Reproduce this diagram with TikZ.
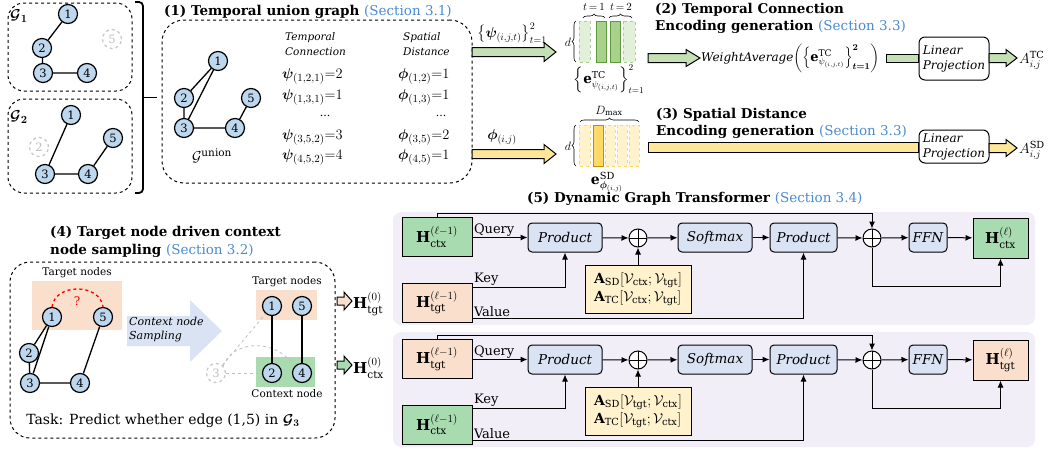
\documentclass[tikz,border=0pt]{standalone}
\usepackage{amsmath,bm}
\usepackage{fontspec}
\setmainfont{DejaVu Serif}
\usetikzlibrary{arrows.meta,calc,decorations.pathreplacing}
\definecolor{gnode}{HTML}{BDD7EE}
\definecolor{secblue}{HTML}{4A8BD0}
\definecolor{arrgreen}{HTML}{C5E0B4}
\definecolor{bargreen}{HTML}{A9D18E}
\definecolor{bargreenD}{HTML}{5E9A3A}
\definecolor{lightgreen}{HTML}{E2F0D9}
\definecolor{arryellow}{HTML}{FFE699}
\definecolor{baryellow}{HTML}{FFD966}
\definecolor{baryellowD}{HTML}{C09000}
\definecolor{lightyellow}{HTML}{FFF2CC}
\definecolor{ctxgreen}{HTML}{A8DCB0}
\definecolor{tgtpeach}{HTML}{FADFCC}
\definecolor{opblue}{HTML}{DAE3F3}
\definecolor{panelc}{HTML}{F2EEF8}
\definecolor{aboxc}{HTML}{FFF2CC}
\newcommand{\myfs}[1]{\fontsize{#1}{#1}\selectfont}
% block arrow: from, to, fill, body half height, head half height, head length
\newcommand{\barrow}[6]{\draw[line width=1pt, fill=#3, line join=miter] ($(#1)+(0,#4)$) -- ($(#2)+(-#6,#4)$) -- ($(#2)+(-#6,#5)$) -- (#2) -- ($(#2)+(-#6,-#5)$) -- ($(#2)+(-#6,-#4)$) -- ($(#1)+(0,-#4)$) -- cycle;}
\newcommand{\bbody}[4]{\draw[line width=1pt, fill=#3] ($(#1)+(0,#4)$) rectangle ($(#2)+(0,-#4)$);}
\begin{document}
\begin{tikzpicture}[x=1pt,y=-1pt,
 gn/.style={circle, draw, line width=1.2pt, fill=gnode, minimum size=19pt, inner sep=0pt, font=\myfs{11.5}},
 gf/.style={circle, draw=black!22, dashed, line width=1.2pt, text=black!25, fill=white, minimum size=19pt, inner sep=0pt, font=\myfs{11.5}},
 ge/.style={line width=1.3pt},
 dbox/.style={draw, dashed, line width=1pt, rounded corners=16pt, inner sep=0pt},
 ttl/.style={font=\fontsize{13.5}{17}\selectfont\bfseries, anchor=west, align=left, inner sep=0pt},
 opbox/.style={draw, line width=1pt, rounded corners=4pt, fill=opblue, font=\myfs{13.5}\itshape, minimum height=29pt, inner sep=0pt},
 hbox/.style={draw, line width=1pt, minimum width=70pt, minimum height=39pt, inner sep=0pt, font=\myfs{15}},
 lpbox/.style={draw, line width=1pt, rounded corners=6pt, fill=white, font=\fontsize{12}{15}\selectfont\itshape, align=left, minimum width=70pt, inner sep=0pt},
 abox/.style={draw, line width=1pt, fill=aboxc, font=\fontsize{14}{18}\selectfont, align=left, minimum width=106pt, minimum height=48pt, inner sep=0pt},
 oplus/.style={circle, draw, line width=1pt, minimum size=18pt, inner sep=0pt, fill=white, path picture={\draw[line width=1pt] (path picture bounding box.north)--(path picture bounding box.south) (path picture bounding box.west)--(path picture bounding box.east);}},
 ar/.style={-{Latex[length=7pt,width=6pt]}, line width=1pt},
 lbl/.style={font=\myfs{13}, inner sep=1pt},
 brc/.style={decorate, decoration={brace, amplitude=4pt}, line width=0.6pt},
 lightbar/.style={dashed, line width=0.4pt},
 fadeline/.style={dashed, draw=black!25, line width=0.8pt},
 mth/.style={anchor=west, font=\myfs{15}, inner sep=0pt},
]
\useasboundingbox (0,0) rectangle (1050,448);

% ---------------- G1 / G2 ----------------
\node[dbox, minimum width=124pt, minimum height=88pt] (g1box) at (70,47) {};
\node[dbox, minimum width=124pt, minimum height=94pt] (g2box) at (70,146) {};
\node[anchor=west, font=\myfs{15}, inner sep=0pt] (g1lab) at (10,16) {$\bm{\mathcal{G}_1}$};
\node[anchor=west, font=\myfs{15}, inner sep=0pt] (g2lab) at (10,117) {$\bm{\mathcal{G}_2}$};
\node[gn] (a1) at (68,14) {1};
\node[gn] (a2) at (42,48) {2};
\node[gn] (a3) at (43,73) {3};
\node[gn] (a4) at (87,73) {4};
\node[gf] (a5) at (112,39) {5};
\draw[ge] (a1)--(a2) (a2)--(a3) (a3)--(a4);
\node[gn] (b1) at (71,115) {1};
\node[gf] (b2) at (39,147) {2};
\node[gn] (b5) at (113,138) {5};
\node[gn] (b3) at (45,174) {3};
\node[gn] (b4) at (88,174) {4};
\draw[ge] (b1)--(b3) (b3)--(b4) (b4)--(b5);
\coordinate (brtop) at (135,2);
\coordinate (brbot) at (135,193);
\coordinate (brmid) at (143,97.5);
\coordinate (brend) at (157,97.5);
\draw[line width=1.8pt, rounded corners=4pt] (brtop) -- (143,2) -- (143,193) -- (brbot);
\draw[line width=1.8pt] (brmid) -- (brend);

% ---------------- (1) union graph ----------------
\node[ttl] (t1) at (164,12) {(1) Temporal union graph {\mdseries\color{secblue}(Section 3.1)}};
\node[dbox, rounded corners=22pt, minimum width=310pt, minimum height=163pt] (ubox) at (317,101.5) {};
\node[gn] (u1) at (218,61) {1};
\node[gn] (u2) at (184,98) {2};
\node[gn] (u5) at (251,98) {5};
\node[gn] (u3) at (184,128) {3};
\node[gn] (u4) at (235,128) {4};
\draw[ge] (u1)--(u2) (u1)--(u3) (u2)--(u3) (u3)--(u4) (u4)--(u5);
\node[font=\myfs{15}] (gu) at (212,156) {$\mathcal{G}^{\mathrm{union}}$};
\node[font=\fontsize{10.5}{15}\selectfont\itshape, align=left, anchor=west, inner sep=0pt] (tch) at (285,44) {Temporal\\Connection};
\node[font=\fontsize{10.5}{15}\selectfont\itshape, align=left, anchor=west, inner sep=0pt] (sdh) at (403,44) {Spatial\\Distance};
\node[mth] (p1) at (282,76) {$\bm{\psi}_{(1,2,1)}{=}2$};
\node[mth] (p2) at (282,97) {$\bm{\psi}_{(1,3,1)}{=}1$};
\node[font=\myfs{11}, inner sep=0pt] (p3) at (325,116) {...};
\node[mth] (p4) at (282,137) {$\bm{\psi}_{(3,5,2)}{=}3$};
\node[mth] (p5) at (282,157) {$\bm{\psi}_{(4,5,2)}{=}4$};
\node[mth] (f1) at (398,76) {$\bm{\phi}_{(1,2)}{=}1$};
\node[mth] (f2) at (398,97) {$\bm{\phi}_{(1,3)}{=}1$};
\node[font=\myfs{11}, inner sep=0pt] (f3) at (441,116) {...};
\node[mth] (f4) at (398,137) {$\bm{\phi}_{(3,5)}{=}2$};
\node[mth] (f5) at (398,157) {$\bm{\phi}_{(4,5)}{=}1$};

% arrows out of union box
\coordinate (gA) at (472,52);
\coordinate (gB) at (556,52);
\barrow{gA}{gB}{arrgreen}{4.5}{9.5}{12}
\node[font=\myfs{14}] (psil) at (512,33) {$\left\{\bm{\psi}_{(i,j,t)}\right\}_{t=1}^{2}$};
\coordinate (yA) at (472,154);
\coordinate (yB) at (556,154);
\barrow{yA}{yB}{arryellow}{4.5}{9.5}{12}
\node[font=\myfs{14}] (phil) at (502,137) {$\bm{\phi}_{(i,j)}$};

% ---------------- (2) TC encoding ----------------
\node[ttl] (t2) at (655,18.5) {(2) Temporal Connection\\Encoding generation {\mdseries\color{secblue}(Section 3.3)}};
\draw[lightbar, draw=bargreen, fill=lightgreen] (579,21) rectangle (590,62);
\draw[fill=bargreen, draw=bargreenD, line width=1pt] (596,21) rectangle (606,62);
\draw[fill=bargreen, draw=bargreenD, line width=1pt] (610,21) rectangle (620,62);
\draw[lightbar, draw=bargreen, fill=lightgreen] (623,21) rectangle (635,62);
\draw[brc] (583,18) -- (605,18);
\draw[brc] (609,18) -- (632,18);
\node[font=\myfs{11}] (tl1) at (594,7) {$t\,{=}\,1$};
\node[font=\myfs{11}] (tl2) at (621,7) {$t\,{=}\,2$};
\draw[brc] (576,62) -- (576,21);
\node[font=\myfs{12}] (dd1) at (568,42) {$d$};
\node[font=\myfs{13.5}] (etc) at (609,79) {$\left\{\mathbf{e}^{\mathrm{TC}}_{\psi_{(i,j,t)}}\right\}_{t=1}^{2}$};
\coordinate (gC) at (648,58);
\coordinate (gD) at (700,58);
\barrow{gC}{gD}{arrgreen}{4.5}{8.5}{14}
\node[anchor=west, font=\myfs{13}, inner sep=1pt] (wavg) at (700,58) {{\fontsize{12}{12}\selectfont\itshape WeightAverage}$\left(\left\{\mathbf{e}^{\mathrm{TC}}_{\psi_{(i,j,t)}}\right\}_{\bm{t=1}}^{\bm{2}}\right)$};
\node[lpbox, minimum height=43pt] (lp1) at (954,58.5) {Linear\\Projection};
\coordinate (gE) at (886,58);
\bbody{gE}{lp1.west}{arrgreen}{4.5}
\coordinate (gF) at (989,58);
\coordinate (gG) at (1017,58);
\barrow{gF}{gG}{arrgreen}{4.5}{8.5}{11}
\node[anchor=west, font=\myfs{14}, inner sep=1pt] (atc) at (1018,60) {$A^{\mathrm{TC}}_{i,j}$};

% ---------------- (3) SD encoding ----------------
\node[ttl] (t3) at (656,123.5) {(3) Spatial Distance\\Encoding generation {\mdseries\color{secblue}(Section 3.3)}};
\draw[lightbar, draw=baryellow, fill=lightyellow] (579,125) rectangle (590,166);
\draw[fill=baryellow, draw=baryellowD, line width=1pt] (593,125) rectangle (603,166);
\draw[lightbar, draw=baryellow, fill=lightyellow] (605,125) rectangle (615,166);
\draw[lightbar, draw=baryellow, fill=lightyellow] (617,125) rectangle (627,166);
\draw[lightbar, draw=baryellow, fill=lightyellow] (629,125) rectangle (639,166);
\draw[brc] (580,122) -- (639,122);
\node[font=\myfs{12}] (dmax) at (609,111) {$D_{\max}$};
\draw[brc] (576,166) -- (576,125);
\node[font=\myfs{12}] (dd2) at (568,146) {$d$};
\node[font=\myfs{14}] (esd) at (607,182) {$\mathbf{e}^{\mathrm{SD}}_{\bm{\phi}_{(i,j)}}$};
\node[lpbox, minimum height=33pt] (lp2) at (954,146.5) {Linear\\Projection};
\coordinate (yC) at (648,148);
\bbody{yC}{lp2.west}{arryellow}{4.5}
\coordinate (yF) at (989,148);
\coordinate (yG) at (1017,148);
\barrow{yF}{yG}{arryellow}{4.5}{8.5}{11}
\node[anchor=west, font=\myfs{14}, inner sep=1pt] (asd) at (1018,150) {$A^{\mathrm{SD}}_{i,j}$};

% ---------------- (5) Transformer ----------------
\node[ttl] (t5) at (527,199) {(5) Dynamic Graph Transformer {\mdseries\color{secblue}(Section 3.4)}};
\fill[panelc, rounded corners=8pt] (393,212) rectangle (1035,325);
\fill[panelc, rounded corners=8pt] (393,332) rectangle (1035,447);

% row 1
\node[hbox, fill=ctxgreen] (hc1) at (437,237) {$\mathbf{H}^{(\ell-1)}_{\mathrm{ctx}}$};
\node[hbox, fill=tgtpeach] (ht1) at (437,302.5) {$\mathbf{H}^{(\ell-1)}_{\mathrm{tgt}}$};
\node[opbox, minimum width=74pt] (pa1) at (565,237.5) {Product};
\node[oplus] (oa1) at (638,238) {};
\node[abox] (aa1) at (638,289) {$\mathbf{A}_{\mathrm{SD}}[\mathcal{V}_{\mathrm{ctx}};\mathcal{V}_{\mathrm{tgt}}]$\\$\mathbf{A}_{\mathrm{TC}}[\mathcal{V}_{\mathrm{ctx}};\mathcal{V}_{\mathrm{tgt}}]$};
\node[opbox, minimum width=74pt] (sa1) at (715,237.5) {Softmax};
\node[opbox, minimum width=67pt] (pb1) at (803.5,237.5) {Product};
\node[oplus] (ob1) at (872,238) {};
\node[opbox, minimum width=38pt] (fa1) at (928,237.5) {FFN};
\node[hbox, fill=ctxgreen, minimum width=55pt, minimum height=40pt] (hc2) at (1000.5,238) {$\mathbf{H}^{(\ell)}_{\mathrm{ctx}}$};
\draw[ar] (hc1.east |- pa1) -- (pa1.west) node[pos=0, above right, lbl] {Query};
\draw[ar] ([yshift=15.5pt]ht1.east) -| (pa1.south) node[pos=0, above right, lbl] {Key};
\draw[ar] ([yshift=-15.5pt]ht1.east) -| (pb1.south) node[pos=0, above right, lbl] {Value};
\draw[ar] (pa1) -- (oa1);
\draw[ar] (aa1) -- (oa1);
\draw[ar] (oa1) -- (sa1);
\draw[ar] (sa1) -- (pb1);
\draw[ar] (pb1) -- (ob1);
\draw[ar] (ob1) -- (fa1);
\draw[ar] (fa1) -- (hc2);
\draw[ar] (hc1.north) -- ++(0,-4) -| (ob1.north);
\draw[ar] (ob1.south) -- ++(0,39) -| (hc2.south);

% row 2
\node[hbox, fill=tgtpeach] (ht2) at (437,359) {$\mathbf{H}^{(\ell-1)}_{\mathrm{tgt}}$};
\node[hbox, fill=ctxgreen] (hc3) at (437,424.5) {$\mathbf{H}^{(\ell-1)}_{\mathrm{ctx}}$};
\node[opbox, minimum width=74pt] (pa2) at (565,359.5) {Product};
\node[oplus] (oa2) at (638,360) {};
\node[abox] (aa2) at (638,411) {$\mathbf{A}_{\mathrm{SD}}[\mathcal{V}_{\mathrm{tgt}};\mathcal{V}_{\mathrm{ctx}}]$\\$\mathbf{A}_{\mathrm{TC}}[\mathcal{V}_{\mathrm{tgt}};\mathcal{V}_{\mathrm{ctx}}]$};
\node[opbox, minimum width=74pt] (sa2) at (715,359.5) {Softmax};
\node[opbox, minimum width=67pt] (pb2) at (803.5,359.5) {Product};
\node[oplus] (ob2) at (872,360) {};
\node[opbox, minimum width=38pt] (fa2) at (928,359.5) {FFN};
\node[hbox, fill=tgtpeach, minimum width=55pt, minimum height=40pt] (ht3) at (1000.5,360) {$\mathbf{H}^{(\ell)}_{\mathrm{tgt}}$};
\draw[ar] (ht2.east |- pa2) -- (pa2.west) node[pos=0, above right, lbl] {Query};
\draw[ar] ([yshift=16.5pt]hc3.east) -| (pa2.south) node[pos=0, above right, lbl] {Key};
\draw[ar] ([yshift=-15.5pt]hc3.east) -| (pb2.south) node[pos=0, above right, lbl] {Value};
\draw[ar] (pa2) -- (oa2);
\draw[ar] (aa2) -- (oa2);
\draw[ar] (oa2) -- (sa2);
\draw[ar] (sa2) -- (pb2);
\draw[ar] (pb2) -- (ob2);
\draw[ar] (ob2) -- (fa2);
\draw[ar] (fa2) -- (ht3);
\draw[ar] (ht2.north) -- ++(0,-4) -| (ob2.north);
\draw[ar] (ob2.south) -- ++(0,39) -| (ht3.south);

% ---------------- (4) sampling ----------------
\node[ttl, font=\fontsize{13.5}{18}\selectfont\bfseries] (t4) at (50,242) {(4) Target node driven context\\node sampling {\mdseries\color{secblue}(Section 3.2)}};
\node[dbox, rounded corners=20pt, minimum width=325pt, minimum height=176pt] (sbox) at (172.5,350) {};
\fill[tgtpeach] (32,281) rectangle (122,330);
\node[font=\myfs{10.5}] (tn1) at (77,273) {Target nodes};
\node[gn] (c1) at (52,317) {1};
\node[gn] (c5) at (103,317) {5};
\node[gn] (c2) at (29,353) {2};
\node[gn] (c3) at (30,383) {3};
\node[gn] (c4) at (80,383) {4};
\draw[ge] (c1)--(c2) (c1)--(c3) (c2)--(c3) (c3)--(c4) (c4)--(c5);
\draw[red, dashed, line width=1.3pt] (c1.north) .. controls (55,283) and (100,283) .. (c5.north);
\node[red, font=\myfs{12}] (qm) at (77,301) {?};
\fill[opblue] (127,316) -- (190,316) -- (190,300) -- (222,331) -- (190,362) -- (190,346) -- (127,346) -- cycle;
\node[anchor=west, align=left, font=\fontsize{11}{14}\selectfont\itshape, inner sep=0pt] (cns) at (129,330) {Context node\\Sampling};
\fill[tgtpeach] (256,290) rectangle (317,320);
\fill[ctxgreen] (256,357) rectangle (315,387);
\node[font=\myfs{10.5}] (tn2) at (287,282) {Target nodes};
\node[font=\myfs{10.5}] (cn2) at (287,394) {Context node};
\node[gf, fill=none] (d3) at (216,373) {3};
\node[gn] (d1) at (272,306) {1};
\node[gn] (d5) at (302,306) {5};
\node[gn] (d2) at (272,373) {2};
\node[gn] (d4) at (302,373) {4};
\draw[fadeline] (d3) -- (d1);
\draw[fadeline] (d3) -- (d2);
\draw[fadeline] (d3.north east) .. controls (232,342) and (272,336) .. (d4.north west);
\draw[ge] (d1)--(d2) (d5)--(d4);
\node[font=\myfs{14}] (task) at (163,421) {Task: Predict whether edge (1,5) in $\bm{\mathcal{G}_3}$};
\coordinate (hta) at (337,301);
\coordinate (htb) at (352,301);
\barrow{hta}{htb}{tgtpeach}{4}{9}{8}
\node[anchor=west, font=\myfs{15}, inner sep=1pt] (h0t) at (352,304) {$\mathbf{H}^{(0)}_{\mathrm{tgt}}$};
\coordinate (hca) at (337,365);
\coordinate (hcb) at (352,365);
\barrow{hca}{hcb}{ctxgreen}{4}{9}{8}
\node[anchor=west, font=\myfs{15}, inner sep=1pt] (h0c) at (352,368) {$\mathbf{H}^{(0)}_{\mathrm{ctx}}$};
\end{tikzpicture}
\end{document}
